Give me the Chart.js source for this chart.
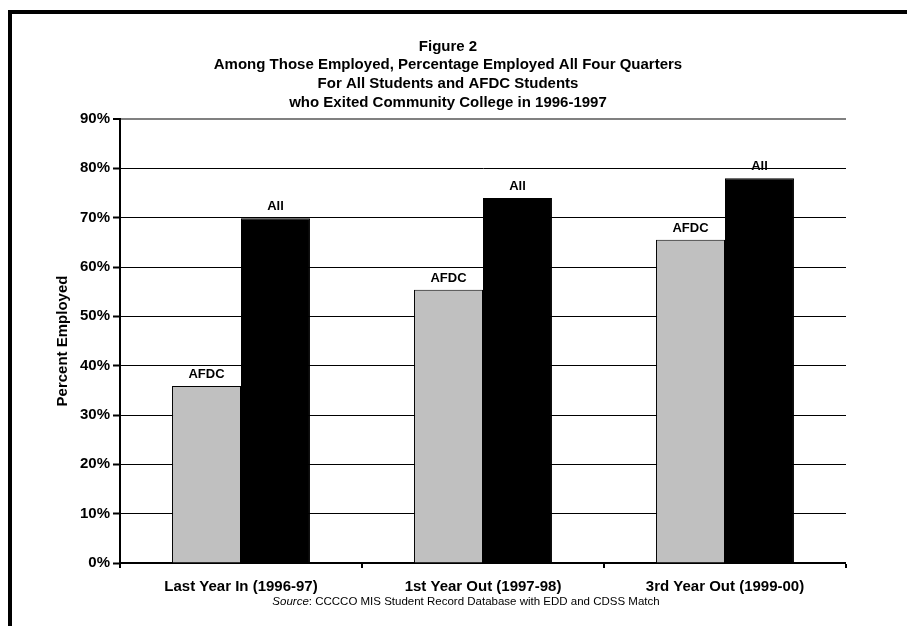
<!DOCTYPE html>
<html>
<head>
<meta charset="utf-8">
<script src="https://cdn.jsdelivr.net/npm/chart.js@4/dist/chart.umd.min.js"></script>
<style>
  html, body { margin: 0; padding: 0; background: #fff; overflow: hidden; width: 907px; height: 626px; }
  #frame { position: absolute; left: 8px; top: 10px; width: 900px; height: 620px;
           border-left: 4px solid #000; border-top: 4px solid #000; }
  #wrap { position: absolute; left: 23px; top: 0; width: 884px; height: 626px; }
</style>
</head>
<body>
<div id="frame"></div>
<div id="wrap"><canvas id="chart"></canvas></div>
<script>
// Exit cohort periods and the share employed all four quarters (%)
const categories = ['Last Year In (1996-97)', '1st Year Out (1997-98)', '3rd Year Out (1999-00)'];
const afdcValues = [35.9, 55.4, 65.5];
const allValues = [69.9, 74.0, 78.0];
const seriesNames = ['AFDC', 'All'];
const yTickValues = [0, 10, 20, 30, 40, 50, 60, 70, 80, 90];
const titleLines = [
  'Figure 2',
  'Among Those Employed, Percentage Employed All Four Quarters',
  'For All Students and AFDC Students',
  'who Exited Community College in 1996-1997'
];
const yAxisTitle = 'Percent Employed';
const sourceLead = 'Source';
const sourceRest = ': CCCCO MIS Student Record Database with EDD and CDSS Match';

const FONT = '"Liberation Sans", Arial, Helvetica, sans-serif';

// Series name printed above each bar
const barNamePlugin = {
  id: 'barNames',
  afterDatasetsDraw(chart) {
    const ctx = chart.ctx;
    ctx.save();
    ctx.font = 'bold 13px ' + FONT;
    ctx.fillStyle = '#000';
    ctx.textAlign = 'center';
    ctx.textBaseline = 'bottom';
    chart.data.datasets.forEach((ds, i) => {
      chart.getDatasetMeta(i).data.forEach(bar => {
        ctx.fillText(ds.label, bar.x, bar.y - 5);
      });
    });
    ctx.restore();
  }
};

// Source note under the category labels, "Source" set in italics
const sourcePlugin = {
  id: 'sourceNote',
  afterDraw(chart) {
    const ctx = chart.ctx;
    ctx.save();
    ctx.fillStyle = '#000';
    ctx.textBaseline = 'middle';
    ctx.textAlign = 'left';
    ctx.font = 'italic 11.5px ' + FONT;
    const w1 = ctx.measureText(sourceLead).width;
    ctx.font = '11.5px ' + FONT;
    const w2 = ctx.measureText(sourceRest).width;
    const cx = 443;
    const y = 602;
    let x = cx - (w1 + w2) / 2;
    ctx.font = 'italic 11.5px ' + FONT;
    ctx.fillText(sourceLead, x, y);
    ctx.font = '11.5px ' + FONT;
    ctx.fillText(sourceRest, x + w1, y);
    ctx.restore();
  }
};

new Chart(document.getElementById('chart'), {
  type: 'bar',
  data: {
    labels: categories,
    datasets: [
      { label: seriesNames[0], data: afdcValues, backgroundColor: '#c0c0c0',
        borderColor: '#000', borderWidth: 1 },
      { label: seriesNames[1], data: allValues, backgroundColor: '#000',
        borderColor: '#000', borderWidth: 1 }
    ]
  },
  options: {
    responsive: true,
    maintainAspectRatio: false,
    animation: false,
    devicePixelRatio: 1,
    layout: { padding: { left: 27, right: 61, top: 0, bottom: 20 } },
    datasets: { bar: { categoryPercentage: 0.57, barPercentage: 1.0 } },
    plugins: {
      legend: { display: false },
      tooltip: { enabled: false },
      title: {
        display: true,
        text: titleLines,
        color: '#000',
        font: { family: FONT, size: 15, weight: 'bold', lineHeight: 1.25 },
        padding: { top: 37, bottom: 7 }
      }
    },
    scales: {
      x: {
        offset: true,
        border: { display: true, color: '#000', width: 2 },
        grid: {
          offset: true,
          drawOnChartArea: true,
          drawTicks: true,
          tickLength: 5,
          tickColor: '#000',
          tickWidth: 2,
          color: c => (c.index === categories.length ? '#808080' : 'rgba(0,0,0,0)'),
          lineWidth: c => (c.index === categories.length ? 2 : 0)
        },
        ticks: {
          color: '#000',
          padding: 10,
          font: { family: FONT, size: 15, weight: 'bold' }
        }
      },
      y: {
        min: 0,
        max: 90,
        afterBuildTicks: scale => { scale.ticks = yTickValues.map(v => ({ value: v })); },
        border: { display: true, color: '#000', width: 2 },
        grid: {
          drawTicks: true,
          tickLength: 7,
          tickColor: '#000',
          tickWidth: 2,
          color: c => (c.tick && c.tick.value === 90 ? '#808080' : '#000'),
          lineWidth: c => (c.tick && c.tick.value === 90 ? 2 : 1)
        },
        ticks: {
          color: '#000',
          padding: 3,
          callback: v => v + '%',
          font: { family: FONT, size: 15, weight: 'bold' }
        },
        title: {
          display: true,
          text: yAxisTitle,
          color: '#000',
          padding: { top: 4, bottom: 6 },
          font: { family: FONT, size: 15, weight: 'bold' }
        },
        afterFit: scale => { scale.width = 70; }
      }
    }
  },
  plugins: [barNamePlugin, sourcePlugin]
});
</script>
</body>
</html>
